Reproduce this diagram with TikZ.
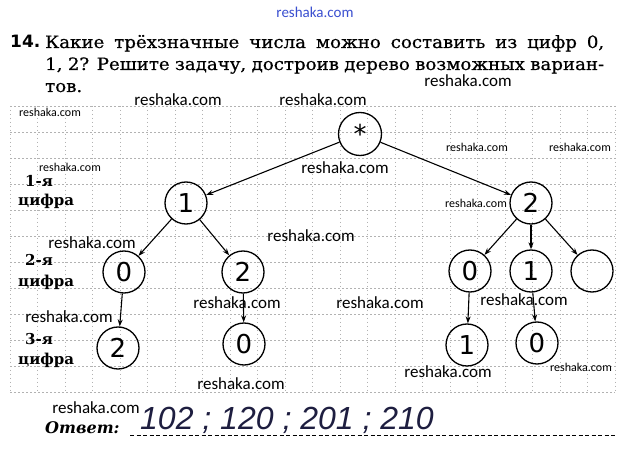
\documentclass[tikz,border=0pt]{standalone}
\usepackage{fontspec}
\setmainfont{DejaVu Serif}
\newfontfamily\bodyfont[FakeStretch=1.07,FakeBold=0.6]{DejaVu Serif}
\newfontfamily\wmfont{Carlito}
\newfontfamily\hfont{DejaVu Sans}
\newfontfamily\numfont{Liberation Sans}
\usetikzlibrary{arrows.meta}
\definecolor{ans}{HTML}{1E1E40}
\definecolor{wmblue}{HTML}{3A4FD0}
\begin{document}
\begin{tikzpicture}[x=1pt,y=-1pt,
  dig/.style={circle,draw,line width=1.3pt,minimum size=42pt,inner sep=0pt,font=\hfont\fontsize{26}{26}\selectfont},
  arr/.style={-{Stealth[length=7pt,width=5pt]},line width=1.1pt},
  wmL/.style={font=\wmfont\fontsize{17}{17}\selectfont,inner sep=0pt},
  wmS/.style={font=\wmfont\fontsize{12}{12}\selectfont,inner sep=0pt},
  gridln/.style={gray!60,line width=0.6pt,dash pattern=on 1.5pt off 2.5pt},
  lbl/.style={font=\bfseries\fontsize{15}{15}\selectfont,anchor=base west,inner sep=0pt},
  body/.style={font=\bodyfont\fontsize{17}{17}\selectfont,anchor=base west,inner sep=0pt}]
\useasboundingbox (0,0) rectangle (630,449);
\fill[white] (0,0) rectangle (630,449);

% grid
\foreach \i in {0,...,11} \draw[gridln] (10,{106+26*\i}) -- (615,{106+26*\i});
\foreach \i in {0,...,22} \draw[gridln] ({10+27.5*\i},106) -- ({10+27.5*\i},392);

% title
\node[anchor=base west,inner sep=0pt,font=\hfont\bfseries\fontsize{17}{17}\selectfont] (num) at (10,48) {14.};
\node[body] (t1) at (45,48) {\makebox[559pt][s]{Какие трёхзначные числа можно составить из цифр 0,}};
\node[body] (t2) at (45,70) {\makebox[559pt][s]{1, 2? Решите задачу, достроив дерево возможных вариан-}};
\node[body] (t3) at (45,92) {тов.};

% row labels
\node[lbl] (l1a) at (25,187) {1-я};
\node[lbl] (l1b) at (18,206) {цифра};
\node[lbl] (l2a) at (25,266) {2-я};
\node[lbl] (l2b) at (18,287) {цифра};
\node[lbl] (l3a) at (25,345) {3-я};
\node[lbl] (l3b) at (18,365) {цифра};

% tree
\node[dig,minimum size=43pt] (root) at (360,134) {*};
\node[dig] (a1) at (186,203) {1};
\node[dig] (a2) at (531,203) {2};
\node[dig] (b10) at (124,272) {0};
\node[dig] (b12) at (243,272) {2};
\node[dig] (b20) at (470,271) {0};
\node[dig] (b21) at (531,271) {1};
\node[dig] (b2e) at (592,271) {};
\node[dig] (c102) at (118,348) {2};
\node[dig] (c120) at (244,344) {0};
\node[dig] (c201) at (467,345) {1};
\node[dig] (c210) at (537,343) {0};

\draw[arr] (root) -- (a1);
\draw[arr] (root) -- (a2);
\draw[arr] (a1) -- (b10);
\draw[arr] (a1) -- (b12);
\draw[arr] (a2) -- (b20);
\draw[arr] (a2) -- (b21);
\draw[arr] (a2) -- (b2e);
\draw[arr] (b10) -- (c102);
\draw[arr] (b12) -- (c120);
\draw[arr] (b20) -- (c201);
\draw[arr] (b21) -- (c210);

% answer
\node[anchor=base west,inner sep=0pt,font=\bfseries\itshape\fontsize{16}{16}\selectfont] (otv) at (45,434) {Ответ:};
\coordinate (u1) at (130,435);
\coordinate (u2) at (617,435);
\draw[line width=0.8pt,dash pattern=on 4pt off 2.5pt] (u1) -- (u2);
\node[anchor=base west,inner sep=0pt,text=ans,font=\numfont\itshape\fontsize{32}{32}\selectfont] (answer) at (140,430) {102 ; 120 ; 201 ; 210};

% watermarks
\node[font=\wmfont\fontsize{15}{15}\selectfont,text=wmblue] (w0) at (315,12) {reshaka.com};
\node[wmL] (w1) at (468,81) {reshaka.com};
\node[wmL] (w2) at (178,100) {reshaka.com};
\node[wmL] (w3) at (323,100) {reshaka.com};
\node[wmS] (w4) at (50,112) {reshaka.com};
\node[wmS] (w5) at (70,167) {reshaka.com};
\node[wmL] (w6) at (345,168) {reshaka.com};
\node[wmS] (w7) at (477,147) {reshaka.com};
\node[wmS] (w8) at (580,147) {reshaka.com};
\node[wmS] (w9) at (476,203) {reshaka.com};
\node[wmL] (w10) at (311,236) {reshaka.com};
\node[wmL] (w11) at (92,243) {reshaka.com};
\node[wmL] (w12) at (237,303) {reshaka.com};
\node[wmL] (w13) at (380,303) {reshaka.com};
\node[wmL] (w14) at (524,300) {reshaka.com};
\node[wmL] (w15) at (69,317) {reshaka.com};
\node[wmL] (w16) at (448,372) {reshaka.com};
\node[wmS] (w17) at (581,367) {reshaka.com};
\node[wmL] (w18) at (241,384) {reshaka.com};
\node[wmL] (w19) at (96,408) {reshaka.com};
\end{tikzpicture}
\end{document}
